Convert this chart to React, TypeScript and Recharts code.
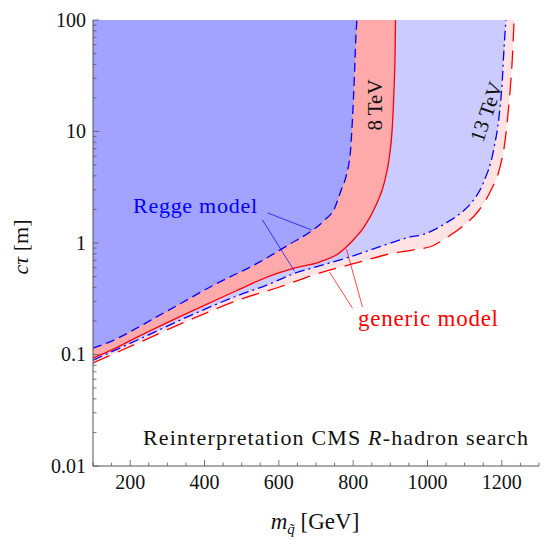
import React from "react";
import {
    ComposedChart,
    Area,
    Line,
    XAxis,
    YAxis,
    ReferenceLine,
} from "recharts";

const W = 554;
const H = 546;
const FRAME = "#555555";
const SERIF = "Liberation Serif, DejaVu Serif, serif";

// exclusion boundaries: squark mass [GeV] vs c*tau [m]
// 8 TeV, Regge model (blue dashed)
const regge8Mass = [100, 125, 300, 425, 550, 630, 683, 723, 750, 768, 782, 793, 798, 803, 807, 810];
const regge8Ct = [0.114, 0.122, 0.246, 0.42, 0.68, 0.98, 1.25, 1.6, 2.05, 3.0, 4.1, 6.8, 12.7, 29, 66, 100];

// 8 TeV, generic model (red solid)
const generic8Mass = [100, 151, 226, 360, 487, 575, 637, 709, 760, 795, 830, 862, 884, 897, 905, 910, 913, 914];
const generic8Ct = [0.093, 0.11, 0.147, 0.24, 0.375, 0.505, 0.59, 0.675, 0.8, 1.02, 1.4, 2.2, 3.5, 5.8, 10.5, 24, 55, 100];

// 13 TeV, Regge model (blue dash-dot)
const regge13Mass = [100, 226, 360, 487, 575, 637, 709, 790, 870, 943, 999, 1050, 1093, 1120, 1150, 1179, 1193, 1201, 1206, 1211];
const regge13Ct = [0.089, 0.138, 0.222, 0.335, 0.429, 0.527, 0.622, 0.749, 0.921, 1.109, 1.229, 1.511, 1.897, 2.33, 3.45, 7.11, 14.06, 27.8, 56.1, 100];

// 13 TeV, generic model (red long dash)
const generic13Mass = [100, 226, 360, 500, 602, 709, 809, 897, 959, 1013, 1050, 1099, 1139, 1171, 1193, 1209, 1220, 1228, 1233];
const generic13Ct = [0.084, 0.129, 0.204, 0.315, 0.403, 0.538, 0.662, 0.797, 0.865, 0.94, 1.109, 1.45, 1.977, 2.99, 4.52, 8.39, 19.2, 43.8, 100];

const CT_MAX = 100;

const massTicks = [100, 150, 200, 250, 300, 350, 400, 450, 500, 550, 600, 650, 700, 750, 800, 850, 900, 950, 1000, 1050, 1100, 1150, 1200, 1250, 1300];
const massLabels = [200, 400, 600, 800, 1000, 1200];
const ctTicks = [
    0.01, 0.02, 0.03, 0.04, 0.05, 0.06, 0.07, 0.08, 0.09,
    0.1, 0.2, 0.3, 0.4, 0.5, 0.6, 0.7, 0.8, 0.9,
    1, 2, 3, 4, 5, 6, 7, 8, 9,
    10, 20, 30, 40, 50, 60, 70, 80, 90,
    100,
];
const ctLabels = [0.01, 0.1, 1, 10, 100];

// leader lines from the model labels to the curves
const reggePointers = [
    [{ x: 570, y: 1.86 }, { x: 688, y: 1.31 }],
    [{ x: 556, y: 1.61 }, { x: 642, y: 0.56 }],
];
const genericPointers = [
    [{ x: 782, y: 0.88 }, { x: 825, y: 0.267 }],
    [{ x: 736, y: 0.549 }, { x: 798, y: 0.261 }],
];

type Pt = { m: number; ct: number };
const zip = (mass: number[], ct: number[]): Pt[] =>
    mass.map((m, i) => ({ m, ct: ct[i] }));

const regge8 = zip(regge8Mass, regge8Ct);
const generic8 = zip(generic8Mass, generic8Ct);
const regge13 = zip(regge13Mass, regge13Ct);
const generic13 = zip(generic13Mass, generic13Ct);

const band = (d: Pt) => [d.ct, CT_MAX];

const serifStyle = { fontFamily: SERIF };

function MassTick(props: any) {
    const { x, y, payload, top } = props;
    const v = payload.value as number;
    const major = massLabels.includes(v);
    const len = major ? 6 : 3.5;
    return (
        <g>
            <line
                x1={x}
                x2={x}
                y1={y}
                y2={top ? y + len : y - len}
                stroke={FRAME}
                strokeWidth={0.8}
            />
            {!top && major && (
                <text
                    x={x}
                    y={y + 23}
                    textAnchor="middle"
                    style={serifStyle}
                    fontSize={20}
                    fill="#111"
                >
                    {v}
                </text>
            )}
        </g>
    );
}

function CtTick(props: any) {
    const { x, y, payload, right } = props;
    const v = payload.value as number;
    const major = ctLabels.includes(v);
    const len = major ? 6 : 3.5;
    return (
        <g>
            <line
                x1={x}
                x2={right ? x - len : x + len}
                y1={y}
                y2={y}
                stroke={FRAME}
                strokeWidth={0.8}
            />
            {!right && major && (
                <text
                    x={x - 7}
                    y={y}
                    dy="0.34em"
                    textAnchor="end"
                    style={serifStyle}
                    fontSize={20}
                    fill="#111"
                >
                    {String(v)}
                </text>
            )}
        </g>
    );
}

export default function App() {
    return (
        <div style={{ position: "absolute", left: 0, top: 0, width: W, height: H }}>
            <ComposedChart
                width={W}
                height={H}
                margin={{ top: 20, right: 15, bottom: 0, left: 0 }}
            >
                <XAxis
                    xAxisId="bottom"
                    dataKey="m"
                    type="number"
                    domain={[100, 1300]}
                    allowDataOverflow
                    ticks={massTicks}
                    interval={0}
                    height={80}
                    tickSize={0}
                    tickMargin={0}
                    tickLine={false}
                    axisLine={{ stroke: FRAME, strokeWidth: 1 }}
                    tick={(p: any) => <MassTick {...p} />}
                />
                <XAxis
                    xAxisId="top"
                    orientation="top"
                    dataKey="m"
                    type="number"
                    domain={[100, 1300]}
                    allowDataOverflow
                    ticks={massTicks}
                    interval={0}
                    height={0}
                    tickSize={0}
                    tickMargin={0}
                    tickLine={false}
                    axisLine={{ stroke: FRAME, strokeWidth: 1 }}
                    tick={(p: any) => <MassTick {...p} top />}
                />
                <YAxis
                    yAxisId="left"
                    type="number"
                    scale="log"
                    domain={[0.01, 100]}
                    allowDataOverflow
                    ticks={ctTicks}
                    interval={0}
                    width={93}
                    tickSize={0}
                    tickMargin={0}
                    tickLine={false}
                    axisLine={{ stroke: FRAME, strokeWidth: 1 }}
                    tick={(p: any) => <CtTick {...p} />}
                />
                <YAxis
                    yAxisId="right"
                    orientation="right"
                    type="number"
                    scale="log"
                    domain={[0.01, 100]}
                    allowDataOverflow
                    ticks={ctTicks}
                    interval={0}
                    width={0}
                    tickSize={0}
                    tickMargin={0}
                    tickLine={false}
                    axisLine={{ stroke: FRAME, strokeWidth: 1 }}
                    tick={(p: any) => <CtTick {...p} right />}
                />

                {/* excluded regions, widest first */}
                <Area
                    xAxisId="bottom"
                    yAxisId="left"
                    data={generic13}
                    dataKey={band}
                    type="monotone"
                    fill="#ffe2e2"
                    fillOpacity={1}
                    stroke="none"
                    isAnimationActive={false}
                />
                <Area
                    xAxisId="bottom"
                    yAxisId="left"
                    data={regge13}
                    dataKey={band}
                    type="monotone"
                    fill="#cbcbff"
                    fillOpacity={1}
                    stroke="none"
                    isAnimationActive={false}
                />
                <Area
                    xAxisId="bottom"
                    yAxisId="left"
                    data={generic8}
                    dataKey={band}
                    type="monotone"
                    fill="#ffaaaa"
                    fillOpacity={1}
                    stroke="none"
                    isAnimationActive={false}
                />
                <Area
                    xAxisId="bottom"
                    yAxisId="left"
                    data={regge8}
                    dataKey={band}
                    type="monotone"
                    fill="#a2a2ff"
                    fillOpacity={1}
                    stroke="none"
                    isAnimationActive={false}
                />

                {/* boundaries */}
                <Line
                    xAxisId="bottom"
                    yAxisId="left"
                    data={generic13}
                    dataKey="ct"
                    type="monotone"
                    stroke="#ff0000"
                    strokeWidth={1.3}
                    strokeDasharray="18 9"
                    dot={false}
                    activeDot={false}
                    isAnimationActive={false}
                />
                <Line
                    xAxisId="bottom"
                    yAxisId="left"
                    data={regge13}
                    dataKey="ct"
                    type="monotone"
                    stroke="#0000ff"
                    strokeWidth={1.3}
                    strokeDasharray="10 4 2 4"
                    dot={false}
                    activeDot={false}
                    isAnimationActive={false}
                />
                <Line
                    xAxisId="bottom"
                    yAxisId="left"
                    data={generic8}
                    dataKey="ct"
                    type="monotone"
                    stroke="#ff0000"
                    strokeWidth={1.3}
                    dot={false}
                    activeDot={false}
                    isAnimationActive={false}
                />
                <Line
                    xAxisId="bottom"
                    yAxisId="left"
                    data={regge8}
                    dataKey="ct"
                    type="monotone"
                    stroke="#0000ff"
                    strokeWidth={1.3}
                    strokeDasharray="9 5"
                    dot={false}
                    activeDot={false}
                    isAnimationActive={false}
                />

                {reggePointers.map((seg, i) => (
                    <ReferenceLine
                        key={`r${i}`}
                        xAxisId="bottom"
                        yAxisId="left"
                        segment={seg}
                        stroke="#0000ff"
                        strokeWidth={0.7}
                        ifOverflow="visible"
                    />
                ))}
                {genericPointers.map((seg, i) => (
                    <ReferenceLine
                        key={`g${i}`}
                        xAxisId="bottom"
                        yAxisId="left"
                        segment={seg}
                        stroke="#ff0000"
                        strokeWidth={0.7}
                        ifOverflow="visible"
                    />
                ))}
            </ComposedChart>

            <svg
                width={W}
                height={H}
                style={{ position: "absolute", left: 0, top: 0, pointerEvents: "none", fontFamily: SERIF }}
            >
                <text
                    x={28}
                    y={247}
                    transform="rotate(-90 28 247)"
                    textAnchor="middle"
                    fontSize={22}
                    fill="#111"
                >
                    <tspan fontStyle="italic">cτ</tspan> [m]
                </text>
                <text x={315} y={529} textAnchor="middle" fontSize={23} fill="#111">
                    <tspan fontStyle="italic">m</tspan>
                    <tspan fontStyle="italic" fontSize={15} dy={5}>q̃</tspan>
                    <tspan dy={-5}> [GeV]</tspan>
                </text>

                <text
                    x={133}
                    y={213}
                    fontSize={22}
                    fill="#0000ff"
                    textLength={124}
                    lengthAdjust="spacing"
                >
                    Regge model
                </text>
                <text
                    x={358}
                    y={326}
                    fontSize={23}
                    fill="#ff0000"
                    textLength={140}
                    lengthAdjust="spacing"
                >
                    generic model
                </text>
                <text
                    x={382}
                    y={105}
                    transform="rotate(-90 382 105)"
                    textAnchor="middle"
                    fontSize={21}
                    fill="#111"
                >
                    8 TeV
                </text>
                <text
                    x={493}
                    y={114}
                    transform="rotate(-71 493 114)"
                    textAnchor="middle"
                    fontSize={21}
                    fill="#111"
                >
                    13 TeV
                </text>
                <text
                    x={143}
                    y={445}
                    fontSize={22}
                    fill="#111"
                    textLength={385}
                    lengthAdjust="spacing"
                >
                    Reinterpretation CMS <tspan fontStyle="italic">R</tspan>-hadron search
                </text>
            </svg>
        </div>
    );
}
